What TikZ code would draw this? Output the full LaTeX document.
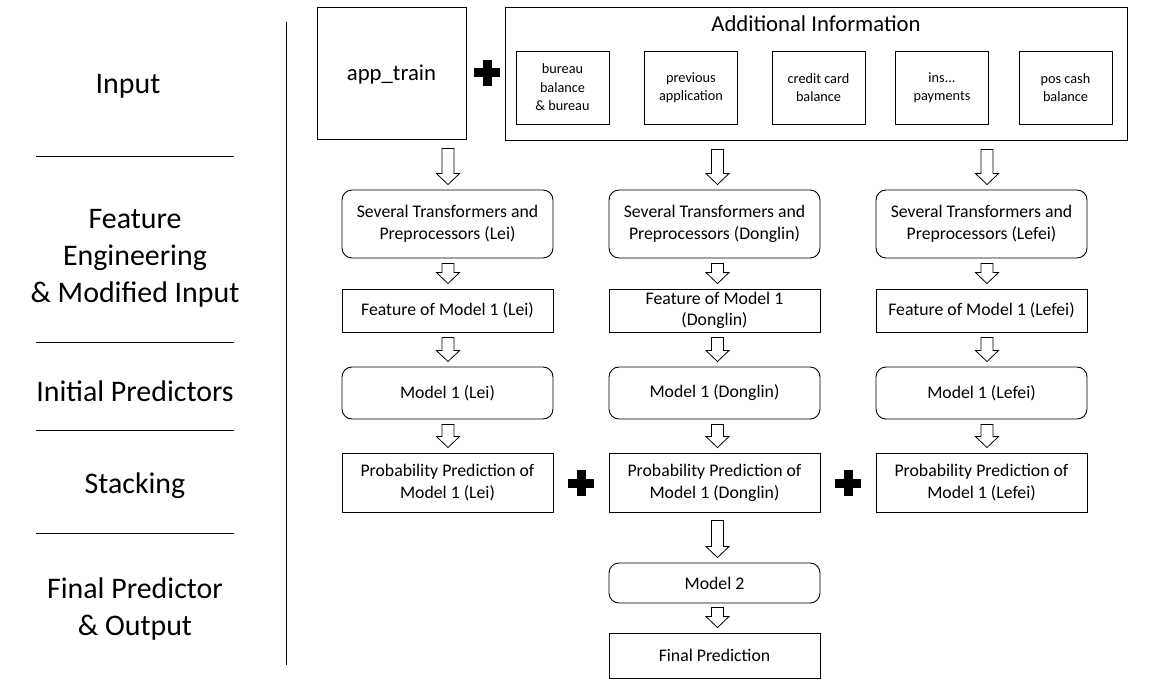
\documentclass[tikz,border=0pt]{standalone}
\usepackage{fontspec}
\setmainfont{Carlito}
\usepackage{tikz}
\usetikzlibrary{positioning,calc}

% hollow down arrow between two boxes, on the vertical through #4
\newcommand{\flow}[4][5bp]{%
  \draw[hollow] let \p1=($(#2.south -| #4)+(0,-#1)$), \p2=($(#3.north -| #4)+(0,5bp)$) in
    (\x1-6bp,\y1) -- (\x1+6bp,\y1) -- (\x1+6bp,\y2+11bp) -- (\x1+11.5bp,\y2+11bp)
    -- (\x1,\y2) -- (\x1-11.5bp,\y2+11bp) -- (\x1-6bp,\y2+11bp) -- cycle;}
% bold plus sign
\newcommand{\plussign}[1]{%
  \fill (#1) +(-13,-4.5) rectangle +(13,4.5);
  \fill (#1) +(-4.5,-13) rectangle +(4.5,13);}

\tikzset{
  box/.style={draw, line width=0.9bp, minimum width=211bp, align=center,
    inner sep=2bp, font=\fontsize{17.8}{22}\selectfont},
  rbox/.style={box, rounded corners=10bp},
  srcbox/.style={draw, line width=0.9bp, minimum width=93bp, minimum height=73bp,
    align=center, inner sep=1bp, font=\fontsize{14.3}{18.5}\selectfont},
  stage/.style={align=center, font=\fontsize{30}{37}\selectfont},
  hollow/.style={draw, line width=0.8bp, fill=white},
}

\begin{document}
\begin{tikzpicture}[x=1bp, y=-1bp]
    \useasboundingbox (0,0) rectangle (1152,683);

    % Stage labels
    \node[stage] (sInput) at (128,86) {Input};
    \node[stage] (sFeat) at (135,258) {Feature\\Engineering\\\& Modified Input};
    \node[stage] (sInit) at (135,391) {Initial Predictors};
    \node[stage] (sStack) at (135,486) {Stacking};
    \node[stage] (sFinal) at (135,609) {Final Predictor\\\& Output};
    \foreach \y in {156,342,430,533} \draw[line width=0.8bp] (36,\y) -- (234,\y);
    \draw[line width=1bp] (286,22) -- (286,665);

    % Input
    \node[draw, line width=0.9bp, minimum width=149bp, minimum height=132bp, text depth=0pt,
      font=\fontsize{22.8}{26}\selectfont] (appt) at (391.5,73) {app\_train};
    \plussign{487,73}
    \node[draw, line width=0.9bp, minimum width=622bp, minimum height=133bp] (addinfo) at (816,73.5) {};
    \node[font=\fontsize{22.8}{26}\selectfont] (addtitle) at (816,24) {Additional Information};
    \node[srcbox] (bureau) at (562.5,87.5) {bureau\\balance\\\& bureau};
    \node[srcbox] (prev) at (691,87.5) {previous\\application};
    \node[srcbox] (credit) at (818.5,87.5) {credit card\\balance};
    \node[srcbox] (ins) at (942,87.5) {ins...\\payments};
    \node[srcbox] (pos) at (1065.5,87.5) {pos cash\\balance};

    % Three first-level pipelines
    \foreach \who/\cx/\ax in {Lei/447.5/448, Donglin/714.5/717.5, Lefei/981.5/987} {
      \coordinate (ax\who) at (\ax,0);
      \node[rbox, minimum height=68bp] (prep\who) at (\cx,224) {Several Transformers and\\Preprocessors (\who)};
      \node[rbox, minimum height=52bp] (model\who) at (\cx,393) {Model 1 (\who)};
      \node[box, minimum height=59bp] (prob\who) at (\cx,482.5) {Probability Prediction of\\Model 1 (\who)};
    }
    \node[box, minimum height=43bp] (featLei) at (447.5,310.5) {Feature of Model 1 (Lei)};
    \node[box, minimum height=43bp, font=\fontsize{17.8}{21}\selectfont] (featDonglin) at (714.5,310.5) {Feature of Model 1\\(Donglin)};
    \node[box, minimum height=43bp] (featLefei) at (981.5,310.5) {Feature of Model 1 (Lefei)};
    \plussign{581,483}
    \plussign{848,483}

    % Second level
    \node[rbox, minimum height=40bp] (model2) at (714.5,583) {Model 2};
    \node[box, minimum height=45bp] (final) at (714.5,655.5) {Final Prediction};

    % Arrows
    \flow[9bp]{appt}{prepLei}{axLei}
    \flow[9bp]{addinfo}{prepDonglin}{axDonglin}
    \flow[9bp]{addinfo}{prepLefei}{axLefei}
    \foreach \who in {Lei, Donglin, Lefei} {
      \flow{prep\who}{feat\who}{ax\who}
      \flow{feat\who}{model\who}{ax\who}
      \flow{model\who}{prob\who}{ax\who}
    }
    \flow[8bp]{probDonglin}{model2}{axDonglin}
    \flow[4bp]{model2}{final}{axDonglin}
\end{tikzpicture}
\end{document}
